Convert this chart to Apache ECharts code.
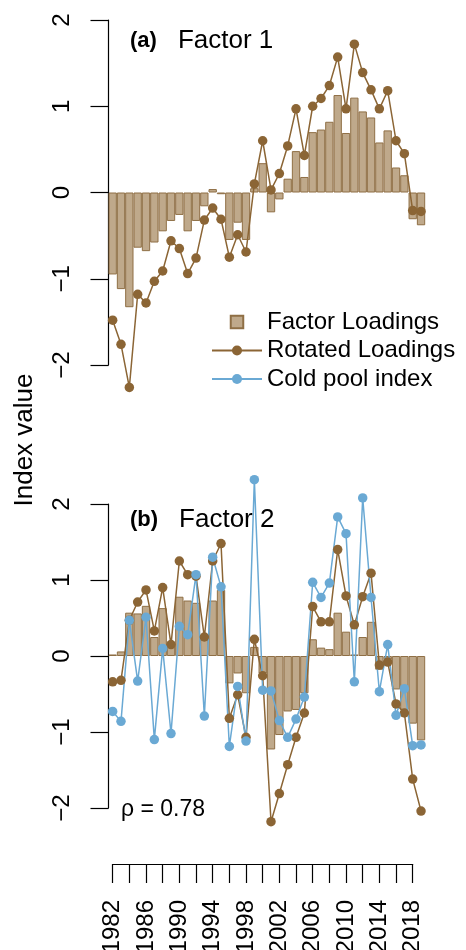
<!DOCTYPE html>
<html>
<head>
<meta charset="utf-8">
<script src="https://cdn.jsdelivr.net/npm/echarts@6/dist/echarts.min.js"></script>
<style>
html, body { margin: 0; padding: 0; background: #fff; }
#chart { width: 466px; height: 950px; }
</style>
</head>
<body>
<div id="chart"></div>
<script>
// 年份
var years = ['1982','1983','1984','1985','1986','1987','1988','1989','1990','1991',
	'1992','1993','1994','1995','1996','1997','1998','1999','2000','2001',
	'2002','2003','2004','2005','2006','2007','2008','2009','2010','2011',
	'2012','2013','2014','2015','2016','2017','2018','2019'];

// (a) Factor 1
var f1Loadings = [-0.95, -1.12, -1.33, -0.64, -0.68, -0.58, -0.45, -0.33, -0.26, -0.45,
	-0.33, -0.16, 0.04, -0.02, -0.55, -0.35, -0.55, 0.05, 0.34, -0.23,
	-0.08, 0.16, 0.48, 0.18, 0.70, 0.73, 0.82, 1.13, 0.69, 1.10,
	0.94, 0.87, 0.58, 0.72, 0.29, 0.20, -0.31, -0.38];
var f1Rotated = [-1.48, -1.76, -2.26, -1.18, -1.28, -1.03, -0.91, -0.56, -0.65, -0.94,
	-0.76, -0.32, -0.18, -0.31, -0.75, -0.49, -0.69, 0.10, 0.60, 0.03,
	0.22, 0.54, 0.97, 0.43, 1.00, 1.09, 1.24, 1.57, 0.97, 1.72,
	1.39, 1.19, 0.97, 1.18, 0.60, 0.45, -0.21, -0.22];

// (b) Factor 2
var f2Loadings = [0.02, 0.06, 0.57, 0.56, 0.66, 0.25, 0.63, 0.12, 0.78, 0.73,
	0.70, 0.25, 0.73, 0.87, -0.36, -0.23, -0.49, 0.12, -0.23, -1.23,
	-1.04, -0.73, -0.71, -0.49, 0.22, 0.11, 0.09, 0.57, 0.32, 0.02,
	0.25, 0.45, -0.18, -0.05, -0.44, -0.71, -0.89, -1.11];
var f2Rotated = [-0.34, -0.32, 0.47, 0.71, 0.87, 0.33, 0.90, 0.15, 1.25, 1.07,
	1.05, 0.25, 1.25, 1.48, -0.82, -0.51, -1.07, 0.22, -0.26, -2.18,
	-1.81, -1.43, -1.07, -0.75, 0.65, 0.45, 0.45, 1.40, 0.79, 0.41,
	0.78, 1.09, -0.12, -0.08, -0.63, -0.75, -1.62, -2.04];
var coldPool = [-0.73, -0.86, 0.47, -0.33, 0.51, -1.10, 0.10, -1.02, 0.39, 0.28,
	1.07, -0.79, 1.30, 0.91, -1.19, -0.40, -1.12, 2.32, -0.45, -0.46,
	-0.85, -1.07, -0.83, -0.54, 0.97, 0.77, 0.96, 1.83, 1.61, -0.34,
	2.08, 0.77, -0.47, 0.15, -0.78, -0.43, -1.18, -1.17];

// 坐标轴刻度
var yTicks = [-2, -1, 0, 1, 2];
var xTickStart = 1982, xTickEnd = 2018, xTickStep = 2, xLabelStep = 4;

var FONT = 'Liberation Sans';
var BROWN = '#8b6535';
var BLUE = '#6aa9d4';

function barSeries(xi, data) {
	return {
		name: 'Factor Loadings',
		type: 'bar',
		xAxisIndex: xi, yAxisIndex: xi,
		data: data,
		barCategoryGap: '0%',
		itemStyle: { color: 'rgba(184,160,126,0.9)', borderColor: '#8f6f45', borderWidth: 1 }
	};
}
function lineSeries(xi, name, color, data) {
	return {
		name: name,
		type: 'line',
		xAxisIndex: xi, yAxisIndex: xi,
		data: data,
		clip: false,
		symbol: 'circle',
		symbolSize: 9.5,
		showAllSymbol: true,
		lineStyle: { color: color, width: 1.5 },
		itemStyle: { color: color }
	};
}
function yAxisOpt(gi) {
	return {
		gridIndex: gi,
		type: 'value',
		min: yTicks[0], max: yTicks[yTicks.length - 1], interval: 1,
		axisLine: { show: true, lineStyle: { color: '#000', width: 1.2 } },
		axisTick: { show: true, length: 18, lineStyle: { color: '#000', width: 1.2 } },
		axisLabel: {
			rotate: 90, margin: 34, color: '#000', fontSize: 24, fontFamily: FONT,
			formatter: function (v) { return v < 0 ? '\u2212' + (-v) : '' + v; }
		},
		splitLine: { show: false }
	};
}
function panelTitle(tag, name, top) {
	return {
		left: 130, top: top, padding: 0,
		text: '{b|' + tag + '}{t|' + name + '}',
		textStyle: { rich: {
			b: { fontFamily: FONT, fontWeight: 'bold', fontSize: 22, color: '#000' },
			t: { fontFamily: FONT, fontWeight: 'normal', fontSize: 26, color: '#000', padding: [0, 0, 0, 21] }
		} }
	};
}

var chart = echarts.init(document.getElementById('chart'));
chart.setOption({
	animation: false,
	backgroundColor: '#fff',
	title: [panelTitle('(a)', 'Factor 1', 28), panelTitle('(b)', 'Factor 2', 507)],
	legend: {
		orient: 'vertical',
		left: 211, top: 310, padding: 0,
		itemWidth: 50, itemHeight: 12.5, itemGap: 4.5,
		selectedMode: false,
		textStyle: { fontFamily: FONT, fontSize: 24, color: '#000', lineHeight: 22 },
		data: [
			{ name: 'Factor Loadings', icon: 'path://M0,0L10,0L10,10L0,10Z' },
			'Rotated Loadings',
			'Cold pool index'
		]
	},
	grid: [
		{ left: 108.5, width: 316.7, top: 20, height: 345 },
		{ left: 108.5, width: 316.7, top: 504, height: 304 },
		{ left: 112.7, width: 300, top: 864, height: 0 }
	],
	xAxis: [
		{ gridIndex: 0, type: 'category', data: years, show: false },
		{ gridIndex: 1, type: 'category', data: years, show: false },
		{
			gridIndex: 2, type: 'value', position: 'bottom',
			min: xTickStart, max: xTickEnd, interval: xTickStep,
			axisLine: { show: true, lineStyle: { color: '#000', width: 1.2 } },
			axisTick: { show: true, length: 19, lineStyle: { color: '#000', width: 1.2 } },
			axisLabel: {
				rotate: 90, margin: 36, color: '#000', fontSize: 24, fontFamily: FONT,
				formatter: function (v) { return (v - xTickStart) % xLabelStep === 0 ? '' + v : ''; }
			},
			splitLine: { show: false }
		}
	],
	yAxis: [
		yAxisOpt(0),
		yAxisOpt(1),
		{ gridIndex: 2, type: 'value', show: false }
	],
	graphic: [{
		type: 'text', x: 25, y: 440, rotation: Math.PI / 2,
		style: { text: 'Index value', fontFamily: FONT, fontSize: 26, fill: '#000',
			align: 'center', verticalAlign: 'middle' }
	}, {
		type: 'text', x: 121, y: 810,
		style: { text: '\u03c1 = 0.78', fontFamily: FONT, fontSize: 23, fill: '#000',
			verticalAlign: 'middle' }
	}],
	series: [
		barSeries(0, f1Loadings),
		lineSeries(0, 'Rotated Loadings', BROWN, f1Rotated),
		barSeries(1, f2Loadings),
		lineSeries(1, 'Rotated Loadings', BROWN, f2Rotated),
		lineSeries(1, 'Cold pool index', BLUE, coldPool)
	]
});
</script>
</body>
</html>
